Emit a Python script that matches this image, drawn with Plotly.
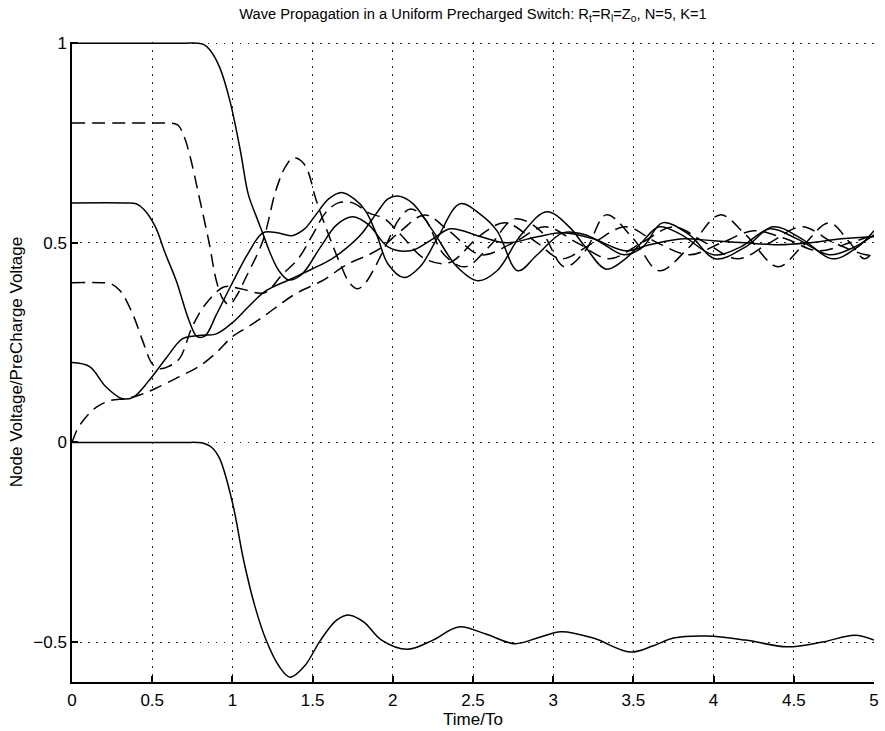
import plotly.graph_objects as go

# ---- data ----
a_x = [0, 0.70, 0.78, 0.82, 0.86, 0.92, 0.985, 1.05, 1.10, 1.15, 1.19, 1.24, 1.29, 1.35, 1.43, 1.55, 1.65, 1.75, 1.85, 1.97, 2.11, 2.25, 2.36, 2.55, 2.71, 2.9, 3.06, 3.25, 3.45, 3.6, 3.81, 4.0, 4.2, 4.4, 4.6, 4.8, 5.0]
a_y = [1, 1, 1, 0.997, 0.983, 0.94, 0.855, 0.73, 0.62, 0.565, 0.523, 0.47, 0.43, 0.407, 0.42, 0.49, 0.545, 0.565, 0.545, 0.49, 0.48, 0.51, 0.535, 0.515, 0.50, 0.515, 0.525, 0.51, 0.48, 0.495, 0.51, 0.505, 0.50, 0.495, 0.50, 0.51, 0.515]

b_x = [0, 0.55, 0.62, 0.66, 0.70, 0.74, 0.79, 0.855, 0.90, 0.94, 0.98, 1.03, 1.08, 1.19, 1.27, 1.33, 1.38, 1.43, 1.47, 1.52, 1.60, 1.68, 1.73, 1.78, 1.83, 1.89, 1.97, 2.04, 2.11, 2.2, 2.32, 2.45, 2.6, 2.76, 2.92, 3.07, 3.2, 3.33, 3.5, 3.66, 3.85, 4.04, 4.2, 4.40, 4.55, 4.72, 4.85, 4.94, 5.0]
b_y = [0.8, 0.8, 0.8, 0.795, 0.765, 0.71, 0.62, 0.50, 0.405, 0.36, 0.345, 0.37, 0.41, 0.505, 0.63, 0.69, 0.713, 0.705, 0.68, 0.61, 0.52, 0.44, 0.40, 0.385, 0.40, 0.44, 0.505, 0.56, 0.585, 0.56, 0.47, 0.44, 0.49, 0.56, 0.53, 0.44, 0.48, 0.57, 0.51, 0.43, 0.49, 0.57, 0.52, 0.44, 0.49, 0.55, 0.50, 0.46, 0.48]

c_x = [0, 0.33, 0.40, 0.45, 0.52, 0.58, 0.65, 0.73, 0.78, 0.83, 0.90, 1.0, 1.10, 1.19, 1.28, 1.37, 1.45, 1.52, 1.60, 1.68, 1.76, 1.83, 1.90, 1.97, 2.07, 2.17, 2.28, 2.42, 2.55, 2.65, 2.78, 2.9, 3.06, 3.2, 3.3, 3.44, 3.56, 3.68, 3.85, 4.01, 4.2, 4.37, 4.55, 4.74, 4.9, 5.0]
c_y = [0.6, 0.6, 0.598, 0.583, 0.54, 0.475, 0.405, 0.305, 0.265, 0.267, 0.32, 0.40, 0.475, 0.525, 0.525, 0.518, 0.535, 0.57, 0.61, 0.626, 0.61, 0.58, 0.52, 0.447, 0.413, 0.44, 0.513, 0.598, 0.57, 0.53, 0.43, 0.47, 0.525, 0.52, 0.50, 0.47, 0.49, 0.55, 0.52, 0.46, 0.49, 0.54, 0.51, 0.46, 0.49, 0.53]

d_x = [0, 0.18, 0.24, 0.30, 0.38, 0.44, 0.50, 0.545, 0.60, 0.67, 0.75, 0.83, 0.95, 1.05, 1.2, 1.31, 1.41, 1.5, 1.58, 1.66, 1.75, 1.85, 1.95, 2.05, 2.2, 2.35, 2.55, 2.7, 2.9, 3.05, 3.25, 3.45, 3.65, 3.85, 4.05, 4.25, 4.45, 4.65, 4.85, 5.0]
d_y = [0.4, 0.4, 0.398, 0.38, 0.32, 0.255, 0.197, 0.185, 0.19, 0.21, 0.29, 0.345, 0.39, 0.385, 0.375, 0.42, 0.46, 0.52, 0.575, 0.6, 0.6, 0.575, 0.56, 0.52, 0.46, 0.45, 0.52, 0.55, 0.50, 0.46, 0.50, 0.54, 0.50, 0.47, 0.50, 0.53, 0.51, 0.48, 0.50, 0.52]

e_x = [0, 0.11, 0.21, 0.31, 0.38, 0.48, 0.59, 0.69, 0.79, 0.90, 1.0, 1.1, 1.21, 1.35, 1.5, 1.62, 1.72, 1.80, 1.9, 1.97, 2.03, 2.12, 2.25, 2.4, 2.53, 2.65, 2.8, 2.96, 3.1, 3.2, 3.33, 3.45, 3.55, 3.66, 3.8, 4.0, 4.17, 4.35, 4.52, 4.72, 4.88, 5.0]
e_y = [0.2, 0.19, 0.14, 0.11, 0.113, 0.155, 0.213, 0.26, 0.268, 0.272, 0.30, 0.34, 0.38, 0.407, 0.435, 0.46, 0.49, 0.52, 0.575, 0.61, 0.617, 0.60, 0.53, 0.44, 0.405, 0.43, 0.52, 0.578, 0.54, 0.49, 0.434, 0.46, 0.50, 0.54, 0.52, 0.47, 0.49, 0.535, 0.51, 0.47, 0.49, 0.52]

f_x = [0, 0.03, 0.07, 0.15, 0.24, 0.34, 0.43, 0.52, 0.67, 0.79, 0.9, 1.0, 1.1, 1.21, 1.31, 1.41, 1.56, 1.72, 1.85, 1.93, 2.05, 2.2, 2.35, 2.55, 2.75, 2.95, 3.15, 3.35, 3.55, 3.75, 3.95, 4.15, 4.35, 4.55, 4.75, 4.95, 5.0]
f_y = [0, 0.03, 0.055, 0.088, 0.105, 0.11, 0.12, 0.135, 0.165, 0.19, 0.225, 0.265, 0.29, 0.32, 0.35, 0.376, 0.405, 0.447, 0.47, 0.488, 0.53, 0.57, 0.53, 0.47, 0.50, 0.54, 0.50, 0.46, 0.50, 0.54, 0.50, 0.46, 0.50, 0.54, 0.50, 0.47, 0.47]

g_x = [0, 0.70, 0.78, 0.82, 0.87, 0.92, 1.0, 1.07, 1.14, 1.21, 1.29, 1.36, 1.45, 1.55, 1.65, 1.73, 1.82, 1.93, 2.09, 2.25, 2.41, 2.58, 2.76, 2.9, 3.05, 3.25, 3.48, 3.62, 3.75, 3.96, 4.2, 4.46, 4.68, 4.88, 5.0]
g_y = [0, 0, 0, -0.002, -0.012, -0.04, -0.15, -0.295, -0.41, -0.495, -0.56, -0.588, -0.56, -0.495, -0.445, -0.4325, -0.45, -0.495, -0.518, -0.495, -0.462, -0.48, -0.504, -0.49, -0.474, -0.49, -0.525, -0.51, -0.49, -0.485, -0.495, -0.512, -0.5, -0.483, -0.495]

series = [
    (a_x, a_y, "solid"),
    (b_x, b_y, "dash"),
    (c_x, c_y, "solid"),
    (d_x, d_y, "dash"),
    (e_x, e_y, "solid"),
    (f_x, f_y, "dash"),
    (g_x, g_y, "solid"),
]

x_ticks = [0, 0.5, 1, 1.5, 2, 2.5, 3, 3.5, 4, 4.5, 5]
x_ticklabels = ["0", "0.5", "1", "1.5", "2", "2.5", "3", "3.5", "4", "4.5", "5"]
y_ticks = [-0.5, 0, 0.5, 1]
y_ticklabels = ["\u22120.5", "0", "0.5", "1"]

fig = go.Figure()
for xs, ys, st in series:
    fig.add_trace(go.Scatter(
        x=xs, y=ys, mode="lines",
        line=dict(color="black", width=1.5, shape="spline", smoothing=1.0,
                  dash=("solid" if st == "solid" else "13px,7px")),
        showlegend=False, hoverinfo="skip",
    ))

font = "Liberation Sans, Arial, Helvetica, sans-serif"
axis_common = dict(
    showgrid=True, gridcolor="#222", gridwidth=1, griddash="1.5px,6.5px",
    zeroline=False, showline=True, linecolor="black", linewidth=1.5,
    ticks="inside", ticklen=6, tickwidth=1.5, tickcolor="black",
    tickfont=dict(family=font, size=17, color="black"),
    mirror=False,
)

fig.update_layout(
    width=885, height=731,
    margin=dict(l=72, r=6, t=42, b=49),
    paper_bgcolor="white", plot_bgcolor="white",
    title=dict(
        text="Wave Propagation in a Uniform Precharged Switch: R<sub>t</sub>=R<sub>l</sub>=Z<sub>o</sub>, N=5, K=1",
        x=0.5, xref="paper", y=1 - 14 / 731, yref="container", yanchor="middle",
        font=dict(family=font, size=14.7, color="black"),
    ),
    xaxis=dict(range=[0, 5], tickvals=x_ticks, ticktext=x_ticklabels, ticklabelstandoff=2,
               title=dict(text="Time/To", font=dict(family=font, size=17, color="black"), standoff=1),
               **axis_common),
    yaxis=dict(range=[-0.6, 1.003], tickvals=y_ticks, ticktext=y_ticklabels,
               title=dict(text="Node Voltage/PreCharge Voltage", font=dict(family=font, size=17, color="black"), standoff=6),
               **axis_common),
)

fig.write_html("out.html")
